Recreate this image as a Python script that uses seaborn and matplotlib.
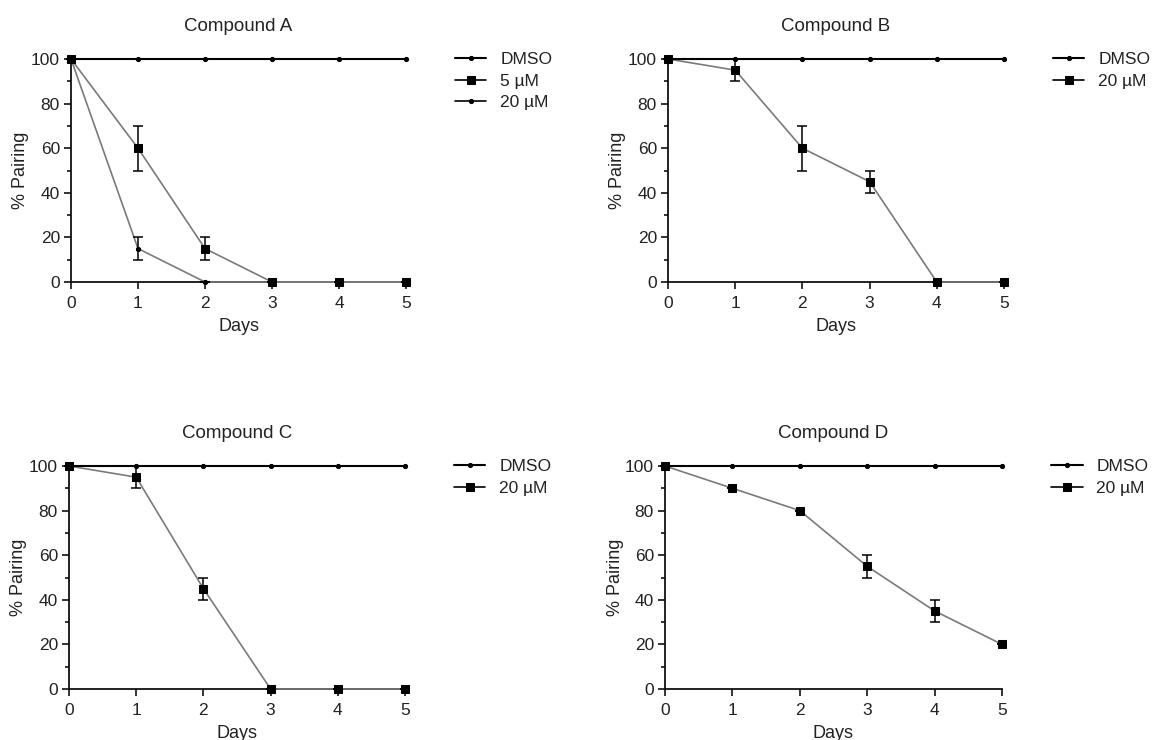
import numpy as np
import pandas as pd
import matplotlib
matplotlib.use("Agg")
import matplotlib.pyplot as plt
from matplotlib.ticker import MultipleLocator
import seaborn as sns

sns.set_style("ticks")
plt.rcParams['font.family'] = ['Liberation Sans', 'DejaVu Sans']

days = [0, 1, 2, 3, 4, 5]
dmso = [100, 100, 100, 100, 100, 100]

a_5uM = [100, 60, 15, 0, 0, 0]
a_5uM_err = [0, 10, 5, 0, 0, 0]
a_20uM = [100, 15, 0, 0, 0, 0]
a_20uM_err = [0, 5, 0, 0, 0, 0]

b_20uM = [100, 95, 60, 45, 0, 0]
b_20uM_err = [0, 5, 10, 5, 0, 0]

c_20uM = [100, 95, 45, 0, 0, 0]
c_20uM_err = [0, 5, 5, 0, 0, 0]

d_20uM = [100, 90, 80, 55, 35, 20]
d_20uM_err = [0, 0, 0, 5, 5, 0]

titles = ["Compound A", "Compound B", "Compound C", "Compound D"]

fig = plt.figure(figsize=(11.53, 7.40), dpi=100)
W, H = 1153, 740
boxes = [(71, 406, 59, 282), (668, 1004, 59, 282), (69, 405, 466, 689), (665, 1002, 466, 689)]
axes = []
for (x0, x1, y0, y1) in boxes:
    axes.append(fig.add_axes([x0 / W, 1 - y1 / H, (x1 - x0) / W, (y1 - y0) / H]))

TXT = "#222222"
GRAY = "#7a7a7a"

def style_axis(ax, title):
    ax.set_xlim(0, 5)
    ax.set_ylim(0, 100)
    ax.xaxis.set_major_locator(MultipleLocator(1))
    ax.yaxis.set_major_locator(MultipleLocator(20))
    ax.yaxis.set_minor_locator(MultipleLocator(10))
    ax.tick_params(axis="both", which="major", direction="out", length=5, width=1.2,
                   labelsize=12.5, colors="#111111", labelcolor=TXT, pad=3)
    ax.tick_params(axis="x", which="major", pad=5)
    ax.tick_params(axis="y", which="minor", direction="out", length=3, width=1.2, colors="#111111")
    for s in ["top", "right"]:
        ax.spines[s].set_visible(False)
    for s in ["left", "bottom"]:
        ax.spines[s].set_linewidth(1.3)
        ax.spines[s].set_color("#111111")
    ax.set_xlabel("Days", fontsize=13, color=TXT, labelpad=5)
    ax.set_ylabel("% Pairing", fontsize=13, color=TXT, labelpad=1)
    ax.set_title(title, fontsize=13.5, color=TXT, pad=20)

def add_series(ax, y, err, label, marker, ms, color, lw, z):
    sns.lineplot(x=days, y=y, ax=ax, color=color, linewidth=lw, marker=marker,
                 markersize=ms, markerfacecolor="black", markeredgecolor="black",
                 label=label, clip_on=False, zorder=z)
    if err is not None:
        ax.errorbar(days, y, yerr=err, fmt="none", ecolor="black", elinewidth=1.1,
                    capsize=3.5, capthick=1.1, clip_on=False, zorder=z + 1)

panels = [
    [(a_20uM, a_20uM_err, "20 µM", "o", 3, GRAY, 1.2, 3),
     (a_5uM, a_5uM_err, "5 µM", "s", 6, GRAY, 1.2, 4)],
    [(b_20uM, b_20uM_err, "20 µM", "s", 6, GRAY, 1.2, 4)],
    [(c_20uM, c_20uM_err, "20 µM", "s", 6, GRAY, 1.2, 4)],
    [(d_20uM, d_20uM_err, "20 µM", "s", 6, GRAY, 1.2, 4)],
]

for ax, title, series in zip(axes, titles, panels):
    add_series(ax, dmso, None, "DMSO", "o", 3, "black", 1.5, 5)
    for (y, err, lab, mk, ms, col, lw, z) in series:
        add_series(ax, y, err, lab, mk, ms, col, lw, z)
    style_axis(ax, title)
    handles, labels = ax.get_legend_handles_labels()
    order = ["DMSO", "5 µM", "20 µM"]
    pairs = sorted(zip(handles, labels), key=lambda p: order.index(p[1]))
    leg = ax.legend([p[0] for p in pairs], [p[1] for p in pairs], loc="upper left",
                    bbox_to_anchor=(1.1, 1.10), frameon=False, fontsize=12.5,
                    handlelength=1.8, handletextpad=0.8, labelspacing=0.35)
    for h in leg.legend_handles:
        h.set_color("black")
    for t in leg.get_texts():
        t.set_color(TXT)

fig.savefig("out.png", dpi=100, facecolor="white")
